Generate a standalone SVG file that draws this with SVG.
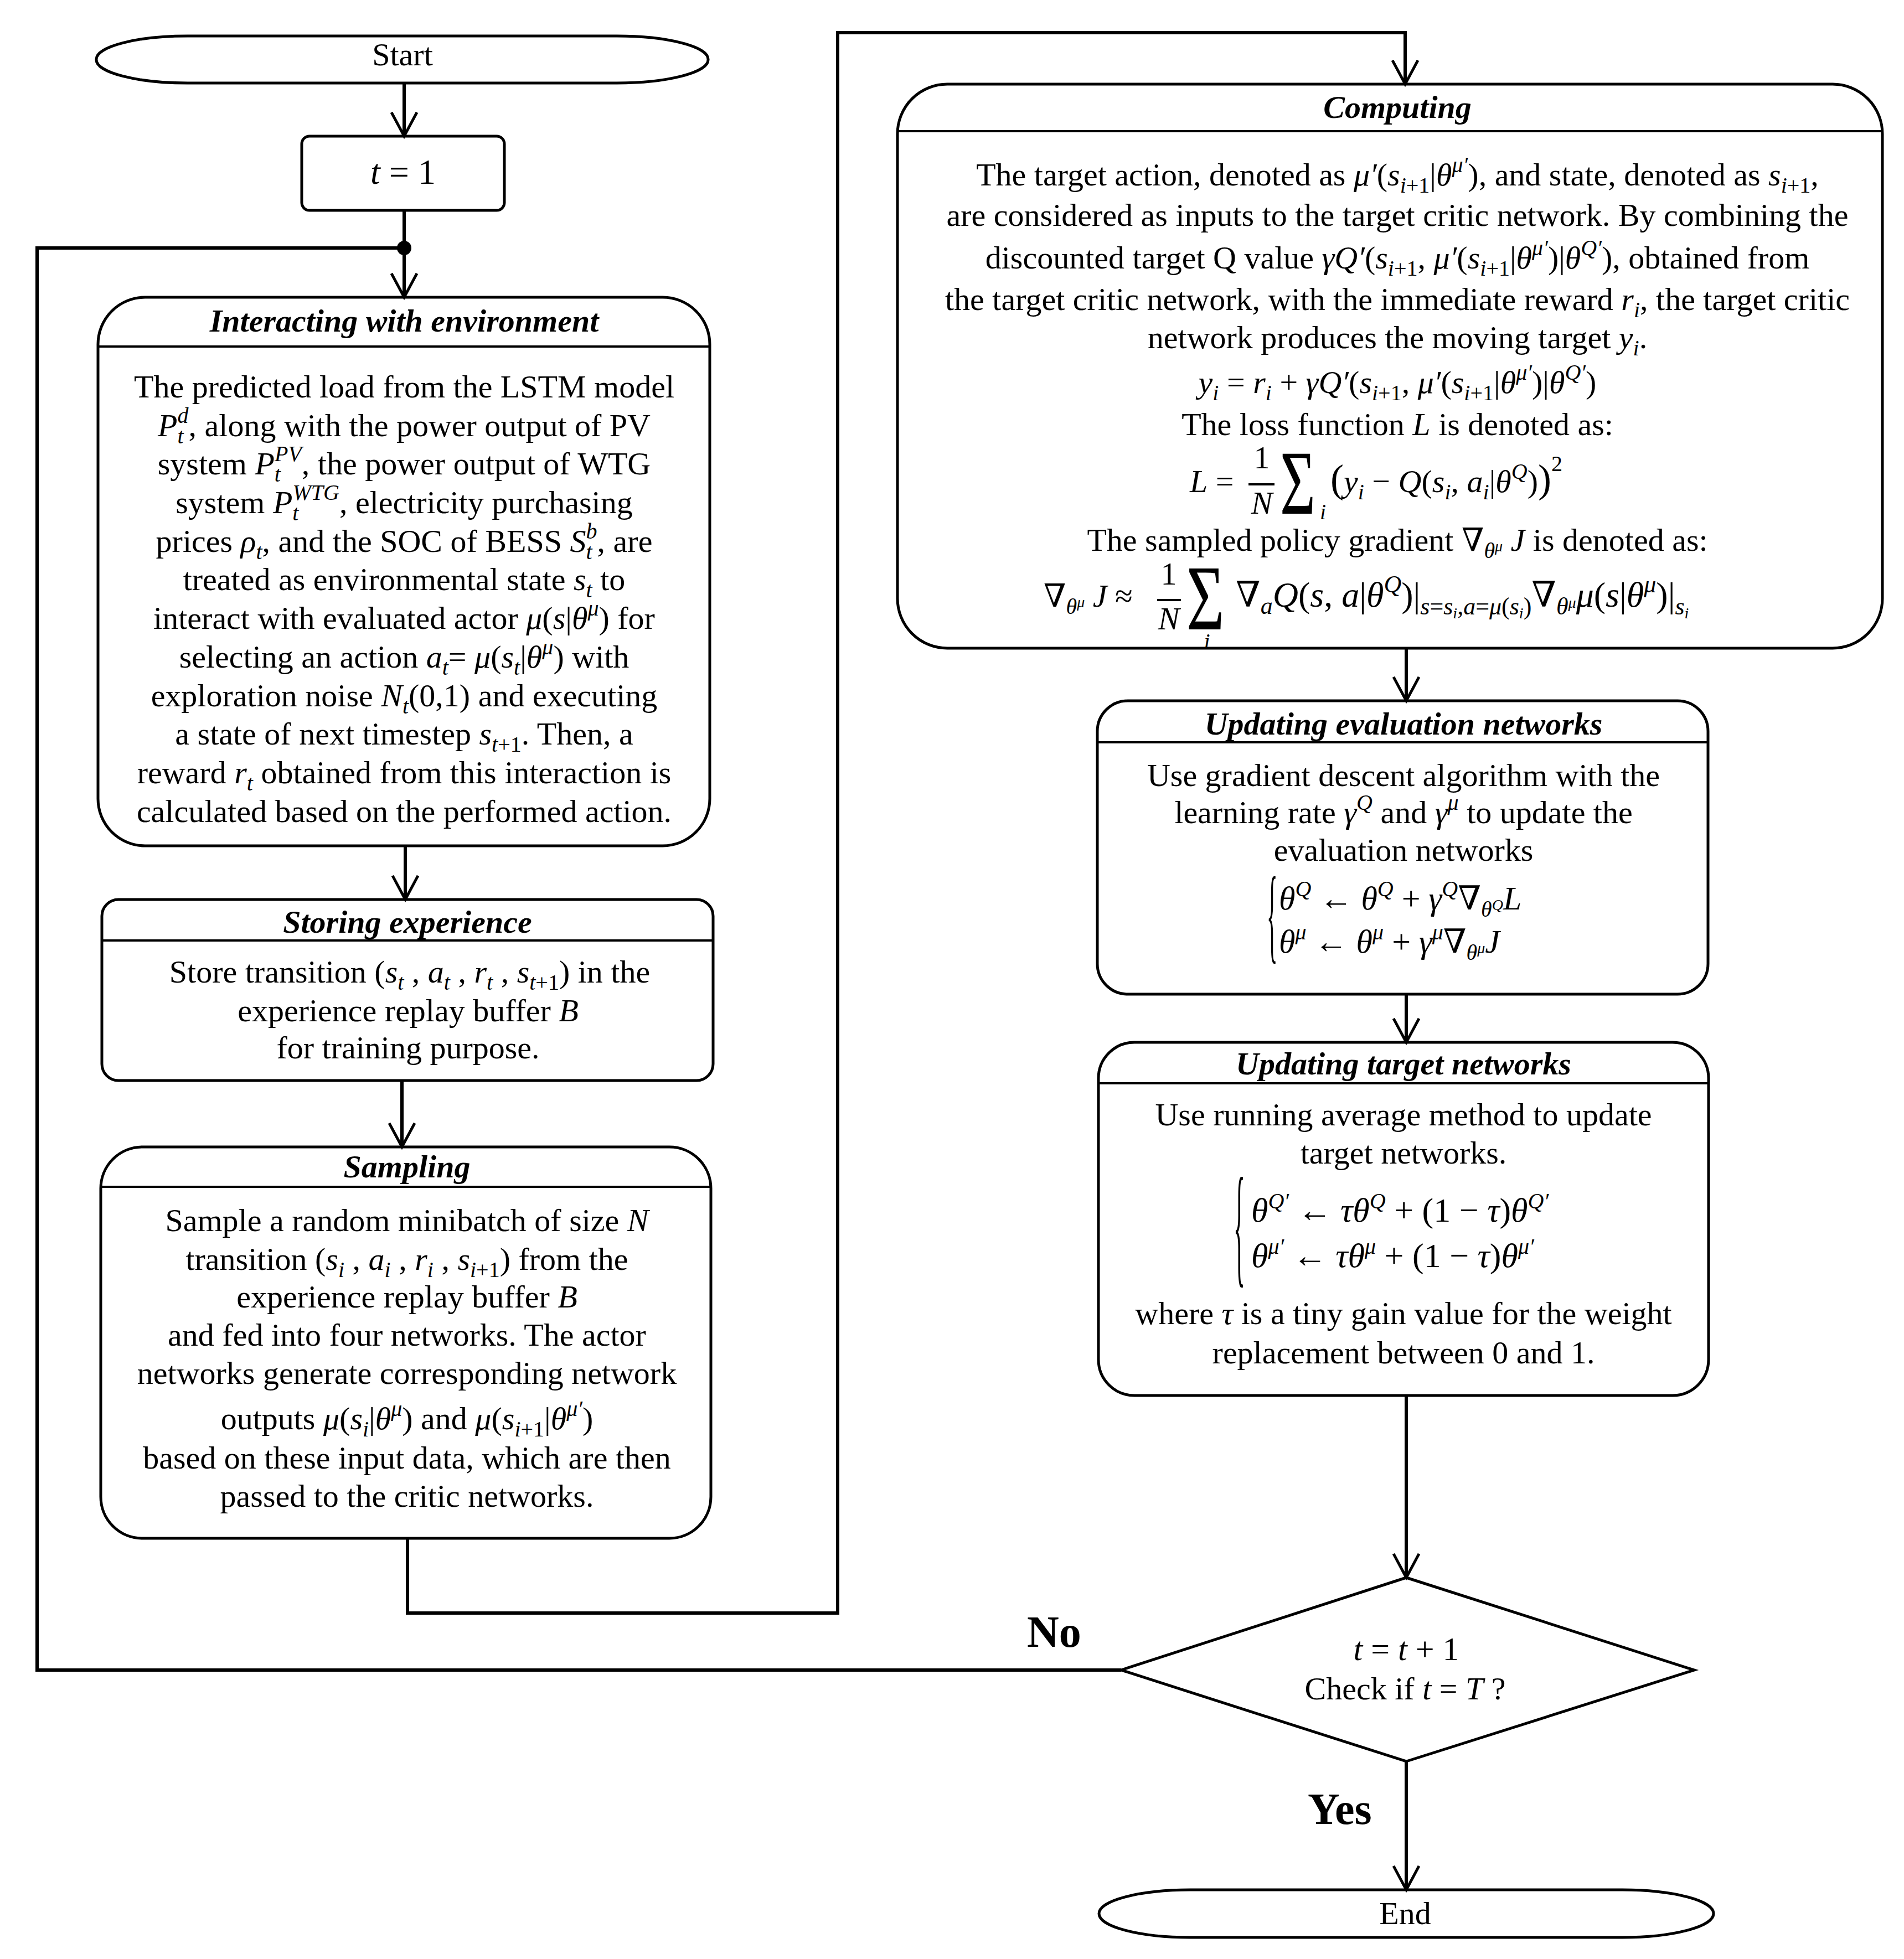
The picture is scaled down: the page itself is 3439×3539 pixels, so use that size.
<svg xmlns="http://www.w3.org/2000/svg" width="3439" height="3539" viewBox="0 0 3439 3539">
<defs>
<style>
.tx{font-family:"Liberation Serif","DejaVu Serif",serif;font-size:58px;fill:#000}
.c{text-anchor:middle}
.h{font-weight:bold;font-style:italic}
.m{font-style:italic}
.s{font-size:40px}
.ss{font-size:28px}
.box{fill:#fff;stroke:#000;stroke-width:5}
.div{stroke:#000;stroke-width:4}
.ln{fill:none;stroke:#000;stroke-width:6}
.lbl{font-family:"Liberation Serif",serif;font-size:80px;font-weight:bold;fill:#000}
.fb{stroke:#000;stroke-width:4}
</style>
<marker id="arr" viewBox="0 0 50 50" refX="44" refY="25" markerWidth="50" markerHeight="50" markerUnits="userSpaceOnUse" orient="auto"><path d="M1,2 L44,25 L1,48" fill="none" stroke="#000" stroke-width="5"/></marker>
</defs>
<rect width="3439" height="3539" fill="#fff"/>

<g id="start">
<rect class="box" x="174" y="65" width="1105" height="85" rx="165" ry="42"/>
<text class="tx c" x="727" y="118">Start</text>
</g>

<g id="init">
<rect class="box" x="545" y="246" width="366" height="134" rx="14"/>
<text class="tx c" x="728" y="332" style="font-size:64px"><tspan class="m">t</tspan> = 1</text>
</g>

<g id="interacting">
<rect class="box" x="177" y="537" width="1105" height="991" rx="85"/>
<line class="div" x1="178" y1="626" x2="1281" y2="626"/>
<text class="tx c h" x="730" y="599">Interacting with environment</text>
<text class="tx c" x="730" y="718">The predicted load from the LSTM model</text>
<text class="tx c" x="730" y="788"><tspan class="m">P</tspan><tspan class="m s" dy="13">t</tspan><tspan class="m s" dx="-11" dy="-37">d</tspan><tspan dy="24">, along with the power output of PV</tspan></text>
<text class="tx c" x="730" y="857">system <tspan class="m">P</tspan><tspan class="m s" dy="13">t</tspan><tspan class="m s" dx="-11" dy="-37">PV</tspan><tspan dy="24">, the power output of WTG</tspan></text>
<text class="tx c" x="730" y="927">system <tspan class="m">P</tspan><tspan class="m s" dy="13">t</tspan><tspan class="m s" dx="-11" dy="-37">WTG</tspan><tspan dy="24">, electricity purchasing</tspan></text>
<text class="tx c" x="730" y="997">prices <tspan class="m">ρ</tspan><tspan class="m s" dy="13">t</tspan><tspan dy="-13">, and the SOC of BESS </tspan><tspan class="m">S</tspan><tspan class="m s" dy="13">t</tspan><tspan class="m s" dx="-11" dy="-37">b</tspan><tspan dy="24">, are</tspan></text>
<text class="tx c" x="730" y="1066">treated as environmental state <tspan class="m">s</tspan><tspan class="m s" dy="13">t</tspan><tspan dy="-13"> to</tspan></text>
<text class="tx c" x="730" y="1136">interact with evaluated actor <tspan class="m">μ</tspan>(<tspan class="m">s</tspan>|<tspan class="m">θ</tspan><tspan class="m s" dy="-24">μ</tspan><tspan dy="24">) for</tspan></text>
<text class="tx c" x="730" y="1206">selecting an action <tspan class="m">a</tspan><tspan class="m s" dy="13">t</tspan><tspan dy="-13">= </tspan><tspan class="m">μ</tspan>(<tspan class="m">s</tspan><tspan class="m s" dy="13">t</tspan><tspan dy="-13">|</tspan><tspan class="m">θ</tspan><tspan class="m s" dy="-24">μ</tspan><tspan dy="24">) with</tspan></text>
<text class="tx c" x="730" y="1276">exploration noise <tspan class="m">N</tspan><tspan class="m s" dy="13">t</tspan><tspan dy="-13">(0,1) and executing</tspan></text>
<text class="tx c" x="730" y="1345">a state of next timestep <tspan class="m">s</tspan><tspan class="s" dy="13"><tspan class="m">t</tspan>+1</tspan><tspan dy="-13">. Then, a</tspan></text>
<text class="tx c" x="730" y="1415">reward <tspan class="m">r</tspan><tspan class="m s" dy="13">t</tspan><tspan dy="-13"> obtained from this interaction is</tspan></text>
<text class="tx c" x="730" y="1485">calculated based on the performed action.</text>
</g>

<g id="storing">
<rect class="box" x="184" y="1625" width="1104" height="327" rx="30"/>
<line class="div" x1="185" y1="1699" x2="1287" y2="1699"/>
<text class="tx c h" x="736" y="1685">Storing experience</text>
<text class="tx c" x="740" y="1775">Store transition (<tspan class="m">s</tspan><tspan class="m s" dy="13">t</tspan><tspan dy="-13"> , </tspan><tspan class="m">a</tspan><tspan class="m s" dy="13">t</tspan><tspan dy="-13"> , </tspan><tspan class="m">r</tspan><tspan class="m s" dy="13">t</tspan><tspan dy="-13"> , </tspan><tspan class="m">s</tspan><tspan class="s" dy="13"><tspan class="m">t</tspan>+1</tspan><tspan dy="-13">) in the</tspan></text>
<text class="tx c" x="737" y="1845">experience replay buffer <tspan class="m">B</tspan></text>
<text class="tx c" x="737" y="1912">for training purpose.</text>
</g>

<g id="sampling">
<rect class="box" x="182" y="2072" width="1102" height="707" rx="75"/>
<line class="div" x1="183" y1="2144" x2="1283" y2="2144"/>
<text class="tx c h" x="735" y="2127">Sampling</text>
<text class="tx c" x="735" y="2224">Sample a random minibatch of size <tspan class="m">N</tspan></text>
<text class="tx c" x="735" y="2294">transition (<tspan class="m">s</tspan><tspan class="m s" dy="13">i</tspan><tspan dy="-13"> , </tspan><tspan class="m">a</tspan><tspan class="m s" dy="13">i</tspan><tspan dy="-13"> , </tspan><tspan class="m">r</tspan><tspan class="m s" dy="13">i</tspan><tspan dy="-13"> , </tspan><tspan class="m">s</tspan><tspan class="s" dy="13"><tspan class="m">i</tspan>+1</tspan><tspan dy="-13">) from the</tspan></text>
<text class="tx c" x="735" y="2362">experience replay buffer <tspan class="m">B</tspan></text>
<text class="tx c" x="735" y="2431">and fed into four networks. The actor</text>
<text class="tx c" x="735" y="2500">networks generate corresponding network</text>
<text class="tx c" x="735" y="2582">outputs <tspan class="m">μ</tspan>(<tspan class="m">s</tspan><tspan class="m s" dy="13">i</tspan><tspan dy="-13">|</tspan><tspan class="m">θ</tspan><tspan class="m s" dy="-24">μ</tspan><tspan dy="24">) and </tspan><tspan class="m">μ</tspan>(<tspan class="m">s</tspan><tspan class="s" dy="13"><tspan class="m">i</tspan>+1</tspan><tspan dy="-13">|</tspan><tspan class="m">θ</tspan><tspan class="m s" dy="-24">μ′</tspan><tspan dy="24">)</tspan></text>
<text class="tx c" x="735" y="2653">based on these input data, which are then</text>
<text class="tx c" x="735" y="2722">passed to the critic networks.</text>
</g>

<g id="computing">
<rect class="box" x="1621" y="152" width="1779" height="1019" rx="90"/>
<line class="div" x1="1622" y1="237" x2="3399" y2="237"/>
<text class="tx c h" x="2524" y="213">Computing</text>
<text class="tx c" x="2524" y="335">The target action, denoted as <tspan class="m">μ′</tspan>(<tspan class="m">s</tspan><tspan class="s" dy="13"><tspan class="m">i</tspan>+1</tspan><tspan dy="-13">|</tspan><tspan class="m">θ</tspan><tspan class="m s" dy="-24">μ′</tspan><tspan dy="24">), and state, denoted as </tspan><tspan class="m">s</tspan><tspan class="s" dy="13"><tspan class="m">i</tspan>+1</tspan><tspan dy="-13">,</tspan></text>
<text class="tx c" x="2524" y="408">are considered as inputs to the target critic network. By combining the</text>
<text class="tx c" x="2524" y="485">discounted target Q value <tspan class="m">γQ′</tspan>(<tspan class="m">s</tspan><tspan class="s" dy="13"><tspan class="m">i</tspan>+1</tspan><tspan dy="-13">, </tspan><tspan class="m">μ′</tspan>(<tspan class="m">s</tspan><tspan class="s" dy="13"><tspan class="m">i</tspan>+1</tspan><tspan dy="-13">|</tspan><tspan class="m">θ</tspan><tspan class="m s" dy="-24">μ′</tspan><tspan dy="24">)|</tspan><tspan class="m">θ</tspan><tspan class="m s" dy="-24">Q′</tspan><tspan dy="24">), obtained from</tspan></text>
<text class="tx c" x="2524" y="560">the target critic network, with the immediate reward <tspan class="m">r</tspan><tspan class="m s" dy="13">i</tspan><tspan dy="-13">, the target critic</tspan></text>
<text class="tx c" x="2524" y="629">network produces the moving target <tspan class="m">y</tspan><tspan class="m s" dy="13">i</tspan><tspan dy="-13">.</tspan></text>
<text class="tx c" x="2524" y="710"><tspan class="m">y</tspan><tspan class="m s" dy="13">i</tspan><tspan dy="-13"> = </tspan><tspan class="m">r</tspan><tspan class="m s" dy="13">i</tspan><tspan dy="-13"> + </tspan><tspan class="m">γQ′</tspan>(<tspan class="m">s</tspan><tspan class="s" dy="13"><tspan class="m">i</tspan>+1</tspan><tspan dy="-13">, </tspan><tspan class="m">μ′</tspan>(<tspan class="m">s</tspan><tspan class="s" dy="13"><tspan class="m">i</tspan>+1</tspan><tspan dy="-13">|</tspan><tspan class="m">θ</tspan><tspan class="m s" dy="-24">μ′</tspan><tspan dy="24">)|</tspan><tspan class="m">θ</tspan><tspan class="m s" dy="-24">Q′</tspan><tspan dy="24">)</tspan></text>
<text class="tx c" x="2524" y="786">The loss function <tspan class="m">L</tspan> is denoted as:</text>
<text class="tx" x="2149" y="889"><tspan class="m">L</tspan> =</text>
<line class="fb" x1="2255" y1="875" x2="2302" y2="875"/>
<text class="tx c" x="2279" y="846">1</text>
<text class="tx c m" x="2279" y="928">N</text>
<text class="tx" transform="translate(2312,928) scale(1,1.5)" style="font-size:110px">Σ</text>
<text class="tx m s" x="2384" y="938">i</text>
<text class="tx" x="2403" y="889"><tspan style="font-size:72px">(</tspan><tspan class="m">y</tspan><tspan class="m s" dy="13">i</tspan><tspan dy="-13"> − </tspan><tspan class="m">Q</tspan>(<tspan class="m">s</tspan><tspan class="m s" dy="13">i</tspan><tspan dy="-13">, </tspan><tspan class="m">a</tspan><tspan class="m s" dy="13">i</tspan><tspan dy="-13">|</tspan><tspan class="m">θ</tspan><tspan class="m s" dy="-24">Q</tspan><tspan dy="24">)</tspan><tspan style="font-size:72px">)</tspan><tspan class="s" dy="-38">2</tspan></text>
<text class="tx c" x="2524" y="995">The sampled policy gradient ∇<tspan class="m s" dy="13">θ</tspan><tspan class="m ss" dy="-12">μ</tspan><tspan dy="-1"> </tspan><tspan class="m">J</tspan> is denoted as:</text>
<text class="tx" x="1885" y="1096">∇<tspan class="m s" dy="13">θ</tspan><tspan class="m ss" dy="-12">μ</tspan><tspan dy="-1"> </tspan><tspan class="m">J</tspan> ≈</text>
<line class="fb" x1="2090" y1="1084" x2="2133" y2="1084"/>
<text class="tx c" x="2111" y="1056">1</text>
<text class="tx c m" x="2111" y="1137">N</text>
<text class="tx" transform="translate(2143,1137) scale(1.05,1.5)" style="font-size:112px">Σ</text>
<text class="tx c m s" x="2180" y="1172">i</text>
<text class="tx" x="2232" y="1096" style="font-size:64px">∇<tspan class="m" style="font-size:44px" dy="13">a</tspan><tspan class="m" dy="-13">Q</tspan>(<tspan class="m">s</tspan>, <tspan class="m">a</tspan>|<tspan class="m">θ</tspan><tspan class="m" style="font-size:44px" dy="-26">Q</tspan><tspan dy="26">)|</tspan><tspan style="font-size:44px" dy="14"><tspan class="m">s</tspan>=<tspan class="m">s</tspan></tspan><tspan class="m ss" dy="7">i</tspan><tspan style="font-size:44px" dy="-7">,<tspan class="m">a</tspan>=<tspan class="m">μ</tspan>(<tspan class="m">s</tspan></tspan><tspan class="m ss" dy="7">i</tspan><tspan style="font-size:44px" dy="-7">)</tspan><tspan dy="-14">∇</tspan><tspan class="m" style="font-size:44px" dy="14">θ</tspan><tspan class="m ss" dy="-12">μ</tspan><tspan class="m" dy="-2">μ</tspan>(<tspan class="m">s</tspan>|<tspan class="m">θ</tspan><tspan class="m" style="font-size:44px" dy="-26">μ</tspan><tspan dy="26">)|</tspan><tspan class="m" style="font-size:44px" dy="14">s</tspan><tspan class="m ss" dy="7">i</tspan></text>
</g>

<g id="update-eval">
<rect class="box" x="1982" y="1266" width="1103" height="530" rx="55"/>
<line class="div" x1="1983" y1="1341" x2="3084" y2="1341"/>
<text class="tx c h" x="2535" y="1327">Updating evaluation networks</text>
<text class="tx c" x="2535" y="1420">Use gradient descent algorithm with the</text>
<text class="tx c" x="2535" y="1487">learning rate <tspan class="m">γ</tspan><tspan class="m s" dy="-24">Q</tspan><tspan dy="24"> and </tspan><tspan class="m">γ</tspan><tspan class="m s" dy="-24">μ</tspan><tspan dy="24"> to update the</tspan></text>
<text class="tx c" x="2535" y="1555">evaluation networks</text>
<text class="tx" transform="translate(2288,1715) scale(0.7,3.3)">{</text>
<text class="tx" x="2310" y="1643" style="font-size:60px"><tspan class="m">θ</tspan><tspan class="m s" dy="-24">Q</tspan><tspan dy="24"> ← </tspan><tspan class="m">θ</tspan><tspan class="m s" dy="-24">Q</tspan><tspan dy="24"> + </tspan><tspan class="m">γ</tspan><tspan class="m s" dy="-24">Q</tspan><tspan dy="24">∇</tspan><tspan class="m s" dy="13">θ</tspan><tspan class="m ss" dy="-12">Q</tspan><tspan class="m" dy="-1">L</tspan></text>
<text class="tx" x="2310" y="1721" style="font-size:60px"><tspan class="m">θ</tspan><tspan class="m s" dy="-24">μ</tspan><tspan dy="24"> ← </tspan><tspan class="m">θ</tspan><tspan class="m s" dy="-24">μ</tspan><tspan dy="24"> + </tspan><tspan class="m">γ</tspan><tspan class="m s" dy="-24">μ</tspan><tspan dy="24">∇</tspan><tspan class="m s" dy="13">θ</tspan><tspan class="m ss" dy="-12">μ</tspan><tspan class="m" dy="-1">J</tspan></text>
</g>

<g id="update-target">
<rect class="box" x="1984" y="1883" width="1102" height="638" rx="65"/>
<line class="div" x1="1985" y1="1957" x2="3085" y2="1957"/>
<text class="tx c h" x="2535" y="1941">Updating target networks</text>
<text class="tx c" x="2535" y="2033">Use running average method to update</text>
<text class="tx c" x="2535" y="2102">target networks.</text>
<text class="tx" transform="translate(2228,2294) scale(0.75,4.16)">{</text>
<text class="tx" x="2260" y="2207" style="font-size:62px"><tspan class="m">θ</tspan><tspan class="m s" dy="-24">Q′</tspan><tspan dy="24"> ← </tspan><tspan class="m">τθ</tspan><tspan class="m s" dy="-24">Q</tspan><tspan dy="24"> + (1 − </tspan><tspan class="m">τ</tspan>)<tspan class="m">θ</tspan><tspan class="m s" dy="-24">Q′</tspan></text>
<text class="tx" x="2260" y="2289" style="font-size:62px"><tspan class="m">θ</tspan><tspan class="m s" dy="-24">μ′</tspan><tspan dy="24"> ← </tspan><tspan class="m">τθ</tspan><tspan class="m s" dy="-24">μ</tspan><tspan dy="24"> + (1 − </tspan><tspan class="m">τ</tspan>)<tspan class="m">θ</tspan><tspan class="m s" dy="-24">μ′</tspan></text>
<text class="tx c" x="2535" y="2392">where <tspan class="m">τ</tspan> is a tiny gain value for the weight</text>
<text class="tx c" x="2535" y="2463">replacement between 0 and 1.</text>
</g>

<g id="decision">
<polygon class="box" points="2540,2850 3060,3017 2540,3182 2025,3017"/>
<text class="tx c" x="2540" y="2999" style="font-size:60px"><tspan class="m">t</tspan> = <tspan class="m">t</tspan> + 1</text>
<text class="tx c" x="2538" y="3070">Check if <tspan class="m">t</tspan> = <tspan class="m">T</tspan> ?</text>
</g>

<g id="end">
<rect class="box" x="1985" y="3414" width="1110" height="86" rx="165" ry="43"/>
<text class="tx c" x="2538" y="3476">End</text>
</g>

<g id="connectors">
<path class="ln" d="M730,150 V246" marker-end="url(#arr)"/>
<path class="ln" d="M730,380 V537" marker-end="url(#arr)"/>
<path class="ln" d="M2025,3017 H67 V448 H730"/>
<circle cx="730" cy="448" r="13" fill="#000"/>
<path class="ln" d="M732,1528 V1625" marker-end="url(#arr)"/>
<path class="ln" d="M726,1952 V2072" marker-end="url(#arr)"/>
<path class="ln" d="M736,2779 V2914 H1513 V59 H2538 V152" marker-end="url(#arr)"/>
<path class="ln" d="M2540,1171 V1266" marker-end="url(#arr)"/>
<path class="ln" d="M2540,1796 V1883" marker-end="url(#arr)"/>
<path class="ln" d="M2540,2521 V2850" marker-end="url(#arr)"/>
<path class="ln" d="M2540,3182 V3414" marker-end="url(#arr)"/>
<text class="lbl" x="1855" y="2975">No</text>
<text class="lbl" x="2362" y="3295">Yes</text>
</g>
</svg>
